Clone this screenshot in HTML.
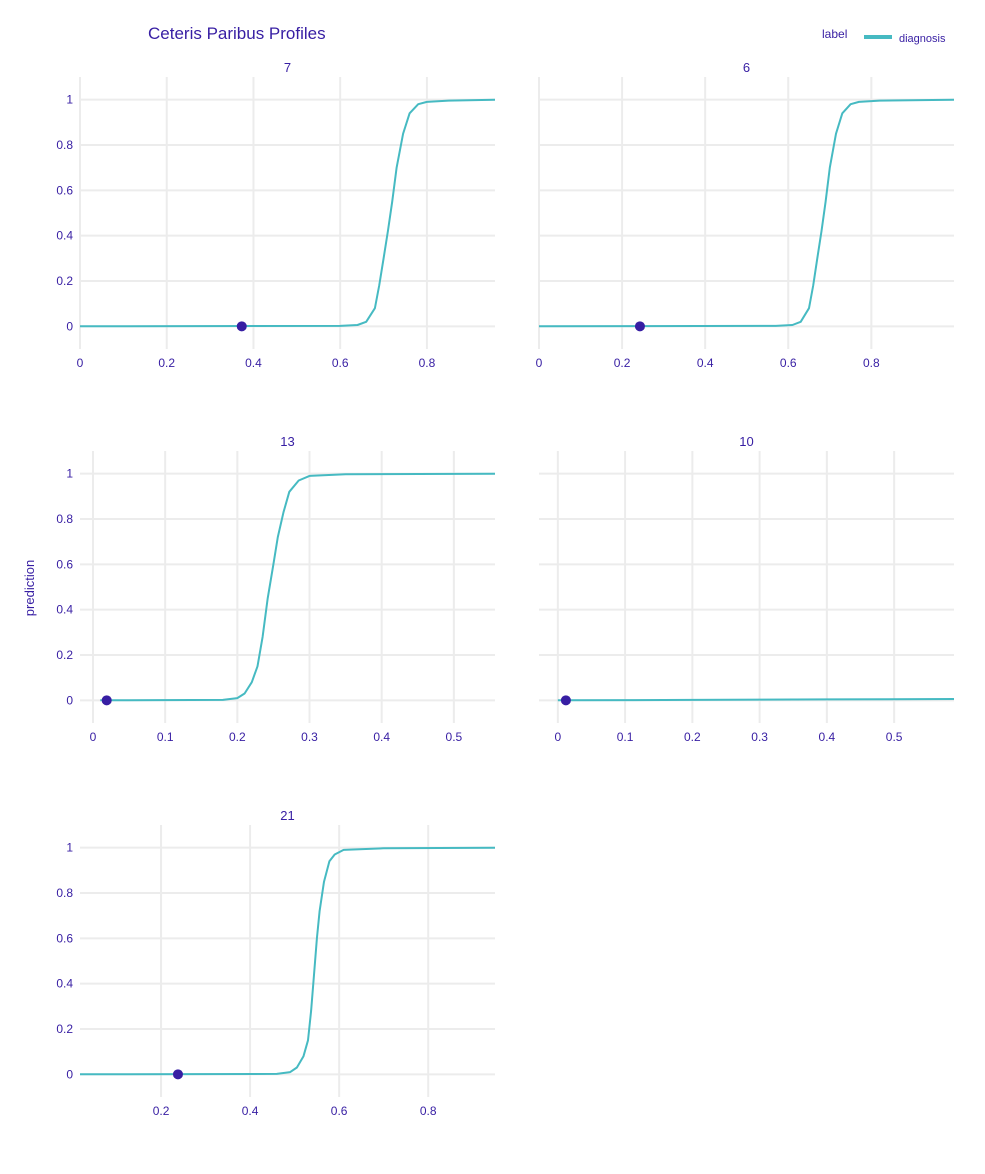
<!DOCTYPE html>
<html><head><meta charset="utf-8">
<style>
body{margin:0;background:#fff;font-family:"Liberation Sans",Arial,sans-serif;}
svg text{font-family:"Liberation Sans",Arial,sans-serif;fill:#371ea3;}
</style></head>
<body>
<svg id="chart" width="985" height="1169" xmlns="http://www.w3.org/2000/svg">
<text x="148" y="39" font-size="17">Ceteris Paribus Profiles</text>
<g>
<text x="822" y="38" font-size="12">label</text>
<line x1="864" y1="37" x2="892" y2="37" stroke="#46bac2" stroke-width="4"/>
<text x="899" y="42" font-size="11">diagnosis</text>
</g>
<text transform="translate(34,588) rotate(-90)" text-anchor="middle" font-size="13">prediction</text>
</svg>
<script>
const panelTitles = ["7","6","13","10","21"];
const xMins = [0, 0, -0.018, -0.028, 0.018];
const xMaxs = [0.957, 0.999, 0.557, 0.589, 0.95];
const xTickVals = [[0,0.2,0.4,0.6,0.8],[0,0.2,0.4,0.6,0.8],[0,0.1,0.2,0.3,0.4,0.5],[0,0.1,0.2,0.3,0.4,0.5],[0.2,0.4,0.6,0.8]];
const xTickLabels = [["0","0.2","0.4","0.6","0.8"],["0","0.2","0.4","0.6","0.8"],["0","0.1","0.2","0.3","0.4","0.5"],["0","0.1","0.2","0.3","0.4","0.5"],["0.2","0.4","0.6","0.8"]];
const yTickVals = [0,0.2,0.4,0.6,0.8,1];
const yTickLabels = ["0","0.2","0.4","0.6","0.8","1"];
const lineX = [
 [0,0.6,0.64,0.66,0.68,0.69,0.70,0.71,0.72,0.73,0.745,0.76,0.78,0.80,0.85,0.957],
 [0,0.57,0.61,0.63,0.65,0.66,0.67,0.68,0.69,0.70,0.715,0.73,0.75,0.77,0.82,0.999],
 [0.01,0.18,0.2,0.21,0.22,0.228,0.235,0.242,0.25,0.256,0.264,0.272,0.285,0.3,0.35,0.557],
 [0.0,0.2,0.4,0.589],
 [0.018,0.46,0.49,0.505,0.52,0.53,0.537,0.544,0.55,0.556,0.566,0.578,0.59,0.61,0.7,0.95]
];
const lineY = [
 [0,0.002,0.006,0.02,0.08,0.18,0.3,0.42,0.55,0.7,0.85,0.94,0.98,0.99,0.996,1.0],
 [0,0.002,0.006,0.02,0.08,0.18,0.3,0.42,0.55,0.7,0.85,0.94,0.98,0.99,0.996,1.0],
 [0,0.002,0.01,0.03,0.08,0.15,0.28,0.45,0.6,0.72,0.83,0.92,0.97,0.99,0.997,1.0],
 [0,0.002,0.004,0.006],
 [0,0.002,0.01,0.03,0.08,0.15,0.28,0.45,0.6,0.72,0.85,0.94,0.97,0.99,0.997,1.0]
];
const pointX = [0.373, 0.243, 0.019, 0.012, 0.238];
const pointY = [0, 0, 0, 0, 0];

const NS="http://www.w3.org/2000/svg";
const svg=document.getElementById('chart');
const boxes=[[80,77],[539,77],[80,451],[539,451],[80,825]];
const W=415,H=272;
function mk(t,a,p){const e=document.createElementNS(NS,t);for(const k in a)e.setAttribute(k,a[k]);(p||svg).appendChild(e);return e;}
for(let i=0;i<5;i++){
 const [L,T]=boxes[i];
 const xs=v=>L+(v-xMins[i])/(xMaxs[i]-xMins[i])*W;
 const ys=v=>T+(1.1-v)/1.2*H;
 const g=mk('g',{});
 
 
 xTickVals[i].forEach((v,j)=>{
  const l=mk('line',{x1:xs(v),x2:xs(v),y1:T,y2:T+H,stroke:'#ececec','stroke-width':2},g);
  
  
  const t=mk('text',{x:xs(v),y:T+H+18,'text-anchor':'middle','font-size':12},g);
  t.textContent=xTickLabels[i][j];
  
  
 });
 yTickVals.forEach((v,j)=>{
  const l=mk('line',{x1:L,x2:L+W,y1:ys(v),y2:ys(v),stroke:'#ececec','stroke-width':2},g);
  
  
  if(i%2===0){
   const t=mk('text',{x:L-7,y:ys(v)+4,'text-anchor':'end','font-size':12},g);
   t.textContent=yTickLabels[j];
   
   
  }
 });
 const tt=mk('text',{x:L+W/2,y:T-5,'text-anchor':'middle','font-size':13},g);
 tt.textContent=panelTitles[i];
 
 
 const d=lineX[i].map((x,k)=>(k?'L':'M')+xs(x).toFixed(1)+','+ys(lineY[i][k]).toFixed(1)).join(' ');
 const p=mk('path',{d:d,fill:'none',stroke:'#46bac2','stroke-width':2,'stroke-linejoin':'round'},g);
 
 
 const c=mk('circle',{cx:xs(pointX[i]),cy:ys(pointY[i]),r:5,fill:'#371ea3'},g);
 
 
}
</script>
</body></html>
